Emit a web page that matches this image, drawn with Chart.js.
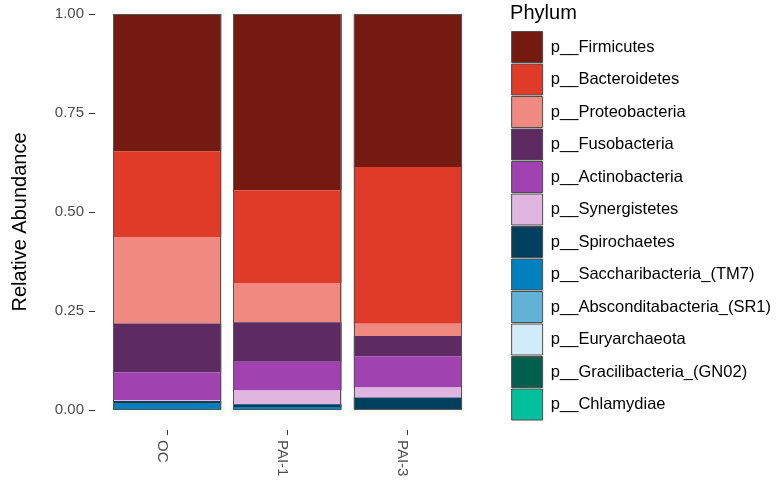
<!DOCTYPE html>
<html>
<head>
<meta charset="utf-8">
<script src="https://cdn.jsdelivr.net/npm/chart.js@4/dist/chart.umd.min.js"></script>
<style>
  html, body { margin: 0; padding: 0; background: #ffffff; }
  #wrap { width: 781px; height: 487px; }
</style>
</head>
<body>
<div id="wrap"><canvas id="c" width="781" height="487"></canvas></div>
<script>
// ---- data ----
const categories = ["OC", "PAI-1", "PAI-3"];
const phyla = [
  "p__Firmicutes", "p__Bacteroidetes", "p__Proteobacteria", "p__Fusobacteria",
  "p__Actinobacteria", "p__Synergistetes", "p__Spirochaetes", "p__Saccharibacteria_(TM7)",
  "p__Absconditabacteria_(SR1)", "p__Euryarchaeota", "p__Gracilibacteria_(GN02)", "p__Chlamydiae"
];
const firmicutes        = [0.347, 0.445, 0.386];
const bacteroidetes     = [0.216, 0.234, 0.396];
const proteobacteria    = [0.218, 0.099, 0.031];
const fusobacteria      = [0.123, 0.100, 0.051];
const actinobacteria    = [0.071, 0.072, 0.079];
const synergistetes     = [0.002, 0.035, 0.025];
const spirochaetes      = [0.007, 0.007, 0.029];
const saccharibacteria  = [0.014, 0.008, 0.003];
const absconditabacteria= [0.002, 0.000, 0.000];
const euryarchaeota     = [0.000, 0.000, 0.000];
const gracilibacteria   = [0.000, 0.000, 0.000];
const chlamydiae        = [0.000, 0.000, 0.000];
const yTicks = [0, 0.25, 0.5, 0.75, 1];

const seriesValues = [firmicutes, bacteroidetes, proteobacteria, fusobacteria, actinobacteria,
  synergistetes, spirochaetes, saccharibacteria, absconditabacteria, euryarchaeota,
  gracilibacteria, chlamydiae];
const colors = ["#741A10", "#E03A28", "#F08A80", "#5D2A62", "#A042B0", "#E0B5E0",
  "#003F5E", "#0080BD", "#62B2D8", "#D2EBF8", "#00604D", "#00BF9B"];

// stacking: first dataset is at the bottom, so build in reverse order
const datasets = phyla.map((name, k) => ({
  label: name,
  data: seriesValues[k].map((v, i) => ({ x: i, y: v })),
  backgroundColor: colors[k],
  borderWidth: 0,
  xAxisID: "x",
  yAxisID: "y",
  stack: "s"
})).reverse();

const FONT = "'Liberation Sans', Arial, Helvetica, sans-serif";

const outlinePlugin = {
  id: "outline",
  afterDatasetsDraw(chart) {
    const ctx = chart.ctx;
    const n = categories.length;
    ctx.save();
    ctx.strokeStyle = "#555555";
    ctx.lineWidth = 1;
    for (let i = 0; i < n; i++) {
      let top = Infinity, bottom = -Infinity, left = 0, width = 0;
      chart.data.datasets.forEach((ds, d) => {
        const meta = chart.getDatasetMeta(d);
        const el = meta.data[i];
        if (!el) return;
        const p = el.getProps(["x", "y", "base", "width"], true);
        top = Math.min(top, p.y, p.base);
        bottom = Math.max(bottom, p.y, p.base);
        left = p.x - p.width / 2;
        width = p.width;
      });
      ctx.strokeRect(Math.round(left) + 0.5, Math.round(top) + 0.5, Math.round(width) - 1, Math.round(bottom - top) - 1);
    }
    ctx.restore();
  }
};

const xLabelPlugin = {
  id: "xlabels",
  afterDraw(chart) {
    const ctx = chart.ctx;
    const xs = chart.scales.x;
    const yb = chart.chartArea.bottom;
    ctx.save();
    ctx.font = "15px " + FONT;
    ctx.fillStyle = "#4D4D4D";
    ctx.textAlign = "left";
    ctx.textBaseline = "top";
    categories.forEach((c, i) => {
      const x = xs.getPixelForValue(i);
      ctx.save();
      ctx.translate(x + 2, yb + 10);
      ctx.rotate(Math.PI / 2);
      ctx.fillText(c, 0, 0);
      ctx.restore();
    });
    ctx.restore();
  }
};

new Chart(document.getElementById("c"), {
  type: "bar",
  data: { datasets },
  plugins: [outlinePlugin, xLabelPlugin],
  options: {
    responsive: false,
    animation: false,
    layout: { padding: 0 },
    datasets: { bar: { categoryPercentage: 0.9, barPercentage: 1.0 } },
    scales: {
      x: {
        type: "linear",
        stacked: true,
        offset: false,
        min: -0.6,
        max: categories.length - 0.4,
        afterBuildTicks(s) { s.ticks = categories.map((c, i) => ({ value: i })); },
        ticks: { display: false },
        grid: { display: true, offset: false, drawOnChartArea: false, drawTicks: true, tickLength: 5, color: "#333333", lineWidth: 1 },
        border: { display: false },
        afterFit(s) { s.height = 57; }
      },
      y: {
        type: "linear",
        stacked: true,
        min: -0.05,
        max: 1,
        afterBuildTicks(s) { s.ticks = yTicks.map(v => ({ value: v })); },
        ticks: {
          callback: v => Number(v).toFixed(2),
          color: "#4D4D4D",
          font: { family: FONT, size: 15 },
          padding: 5
        },
        grid: { display: true, drawOnChartArea: false, drawTicks: true, tickLength: 6, color: "#333333" },
        border: { display: false },
        title: {
          display: true,
          text: "Relative Abundance",
          color: "#000000",
          font: { family: FONT, size: 20 },
          padding: { top: 8, bottom: 0 }
        },
        afterFit(s) { s.width = 95; }
      },
      gapT: {
        type: "linear", position: "top", display: true,
        ticks: { display: false }, grid: { display: false }, border: { display: false },
        afterFit(s) { s.height = 11; }
      },
      gapR: {
        type: "linear", position: "right", display: true,
        ticks: { display: false }, grid: { display: false }, border: { display: false },
        afterFit(s) { s.width = 30; }
      }
    },
    plugins: {
      tooltip: { enabled: false },
      legend: {
        display: true,
        position: "right",
        align: "start",
        reverse: true,
        maxWidth: 320,
        title: {
          display: true,
          position: "start",
          text: "Phylum",
          color: "#000000",
          font: { family: FONT, size: 20 },
          padding: { top: 3, bottom: 3 }
        },
        labels: {
          boxWidth: 31,
          boxHeight: 31,
          padding: 1.5,
          color: "#000000",
          font: { family: FONT, size: 16.5 },
          generateLabels(chart) {
            const items = Chart.defaults.plugins.legend.labels.generateLabels(chart);
            items.forEach(it => { it.lineWidth = 1; it.strokeStyle = "#4D4D4D"; });
            return items;
          }
        }
      }
    }
  }
});
</script>
</body>
</html>
